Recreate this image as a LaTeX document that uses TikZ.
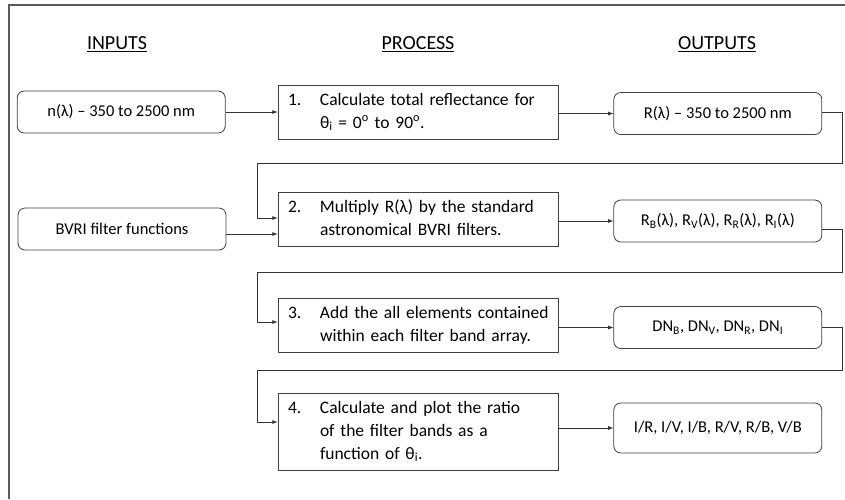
\documentclass[tikz,border=0pt]{standalone}
\usepackage{fontspec}
\setmainfont{Carlito}
\usetikzlibrary{arrows, calc, positioning}
\tikzstyle{heading} = [font=\fontsize{20}{24}\selectfont]
\tikzstyle{inbox} = [rectangle, rounded corners=7pt, minimum width=208pt, minimum
height=42pt, text centered, draw=black!75, line width=0.8pt, font=\fontsize{16.5}{20}\selectfont]
\tikzstyle{outbox} = [inbox]
\tikzstyle{procbox} = [rectangle, minimum width=280pt, minimum height=54pt, text width=260pt,
inner xsep=10pt, align=left, draw=black!75, line width=0.8pt, font=\fontsize{17.5}{23}\selectfont]
\tikzstyle{arrow} = [line width=0.8pt, black!80, ->, >=latex]

\begin{document}
\begin{tikzpicture}[x=1pt, y=-1pt, node distance=55pt]
  \useasboundingbox (0,0) rectangle (845,499);
  \draw[line width=1.3pt, black!65] (9,499) -- (9,5) -- (845,5);

  % headings
  \node (hin) [heading] at (117,44) {\underline{INPUTS}};
  \node (hproc) [heading] at (418,44) {\underline{PROCESS}};
  \node (hout) [heading] at (717,44) {\underline{OUTPUTS}};

  % process steps
  \node (p1) [procbox] at (418,112) {\begin{tabular}{@{}p{32pt}@{}l@{}}
    1. & Calculate total reflectance for\\
       & θ\textsubscript{i} = 0\textsuperscript{o} to 90\textsuperscript{o}.\end{tabular}};
  \node (p2) [procbox] at (418,219.5) {\begin{tabular}{@{}p{32pt}@{}l@{}}
    2. & Multiply R(λ) by the standard\\
       & astronomical BVRI filters.\end{tabular}};
  \node (p3) [procbox] at (418,325) {\begin{tabular}{@{}p{32pt}@{}l@{}}
    3. & Add the all elements contained\\
       & within each filter band array.\end{tabular}};
  \node (p4) [procbox, minimum height=77pt] at (418,431.5) {\begin{tabular}{@{}p{32pt}@{}l@{}}
    4. & Calculate and plot the ratio\\
       & of the filter bands as a\\
       & function of θ\textsubscript{i}.\end{tabular}};

  % inputs
  \node (in1) [inbox, left=52pt of p1] {n(λ) – 350 to 2500 nm};
  \node (in2) [inbox] at (122,229) {BVRI filter functions};

  % outputs
  \node (out1) [outbox, right=of p1, yshift=-1.5pt] {R(λ) – 350 to 2500 nm};
  \node (out2) [outbox, right=of p2, yshift=-1.5pt] {R\textsubscript{B}(λ), R\textsubscript{V}(λ), R\textsubscript{R}(λ), R\textsubscript{I}(λ)};
  \node (out3) [outbox, right=of p3, yshift=-2.5pt] {DN\textsubscript{B}, DN\textsubscript{V}, DN\textsubscript{R}, DN\textsubscript{I}};
  \node (out4) [outbox, right=of p4, yshift=3.5pt, minimum height=50pt] {I/R, I/V, I/B, R/V, R/B, V/B};

  \coordinate (rail) at (257,0);

  \draw[arrow] (in1.east) -- (in1.east -| p1.west);
  \draw[arrow] ([yshift=-5pt]in2.east) -- ([yshift=-5pt]in2.east -| p2.west);
  \draw[arrow] (p1.east |- out1.west) -- (out1.west);
  \draw[arrow] (p2.east |- out2.west) -- (out2.west);
  \draw[arrow] (p3.east |- out3.west) -- (out3.west);
  \draw[arrow] (p4.east |- out4.west) -- (out4.west);

  % feedback lines
  \draw[arrow] ([yshift=1.5pt]out1.east) -| (842,163) -| ([yshift=1.5pt]p2.west -| rail) -- ([yshift=1.5pt]p2.west);
  \draw[arrow] ([yshift=-8pt]out2.east) -| (842,272) -| ([yshift=3pt]p3.west -| rail) -- ([yshift=3pt]p3.west);
  \draw[arrow] (out3.east) -| (842,370) -| ([yshift=9.5pt]p4.west -| rail) -- ([yshift=9.5pt]p4.west);
\end{tikzpicture}
\end{document}
